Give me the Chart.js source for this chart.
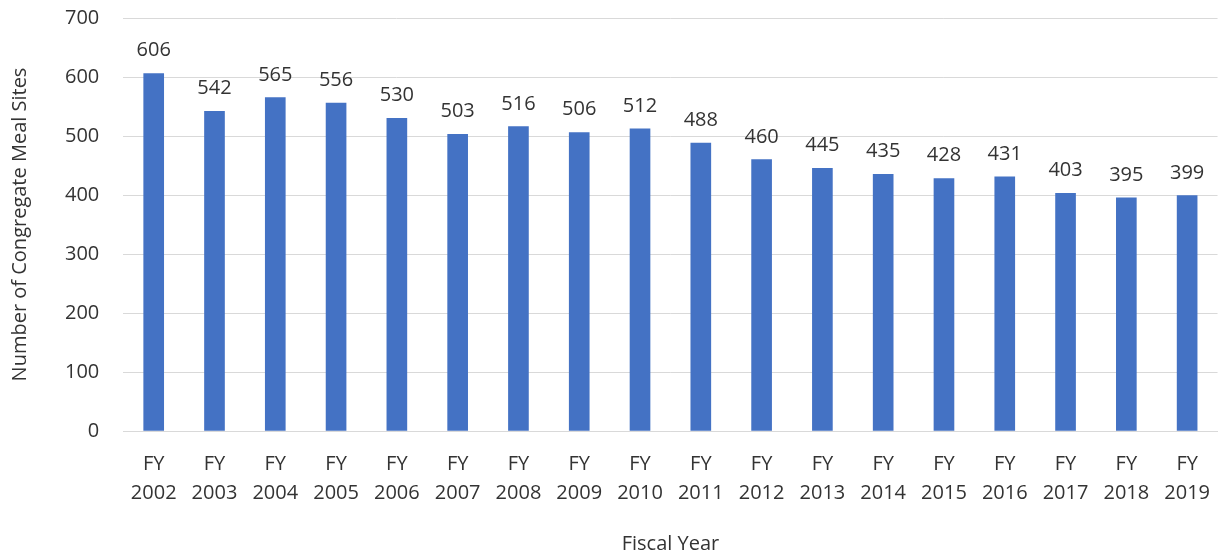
<!DOCTYPE html>
<html>
<head>
<meta charset="utf-8">
<script src="https://cdn.jsdelivr.net/npm/chart.js@4"></script>
<style>
  html, body { margin: 0; padding: 0; background: #fff; overflow: hidden; }
  #wrap { width: 1221px; height: 578px; position: relative; top: -18px; }
</style>
</head>
<body>
<div id="wrap"><canvas id="chart_sites"></canvas></div>
<script>
const years = ['2002','2003','2004','2005','2006','2007','2008','2009','2010','2011','2012','2013','2014','2015','2016','2017','2018','2019'];
const sites = [606,542,565,556,530,503,516,506,512,488,460,445,435,428,431,403,395,399];
const yTicks = [0,100,200,300,400,500,600,700];

const FONT = "'Open Sans', 'Liberation Sans', sans-serif";
const TEXT = '#333333';

// value labels above the bars (datalabels plugin is not available offline)
const barLabels = {
  id: 'barLabels',
  afterDatasetsDraw(chart) {
    const ctx = chart.ctx;
    const meta = chart.getDatasetMeta(0);
    ctx.save();
    ctx.font = '20px ' + FONT;
    ctx.fillStyle = TEXT;
    ctx.textAlign = 'center';
    ctx.textBaseline = 'alphabetic';
    meta.data.forEach(function(bar, i) {
      ctx.fillText(sites[i], bar.x, bar.y - 17);
    });
    ctx.restore();
  }
};

const chartSites = document.getElementById('chart_sites');
const myChart = new Chart(chartSites, {
  type: 'bar',
  data: {
    labels: years.map(y => ['FY', y]),
    datasets: [{
      data: sites,
      backgroundColor: '#4472C4',
      borderWidth: 0,
      barThickness: 20,
    }]
  },
  plugins: [barLabels],
  options: {
    responsive: true,
    maintainAspectRatio: false,
    animation: false,
    layout: {
      padding: {left: 8, right: 0, top: 0, bottom: 4}
    },
    plugins: {
      legend: {display: false},
      tooltip: {enabled: false},
    },
    scales: {
      x: {
        grid: {display: false},
        border: {display: true, color: '#d9d9d9', width: 1},
        ticks: {
          color: TEXT,
          font: {family: FONT, size: 20, lineHeight: 1.45},
          padding: 11,
          maxRotation: 0,
          autoSkip: false,
        },
        title: {
          display: true,
          text: 'Fiscal Year',
          color: TEXT,
          font: {family: FONT, size: 20},
          padding: {top: 13, bottom: 0},
        }
      },
      y: {
        min: 0,
        max: 700,
        afterBuildTicks: axis => { axis.ticks = yTicks.map(v => ({value: v})); },
        grid: {color: '#d9d9d9', lineWidth: 1, drawTicks: false},
        border: {display: false},
        ticks: {
          color: TEXT,
          font: {family: FONT, size: 20},
          padding: 24,
        },
        title: {
          display: true,
          text: 'Number of Congregate Meal Sites',
          color: TEXT,
          font: {family: FONT, size: 20},
          padding: {top: 0, bottom: 9},
        }
      },
    }
  }
});
</script>
</body>
</html>
